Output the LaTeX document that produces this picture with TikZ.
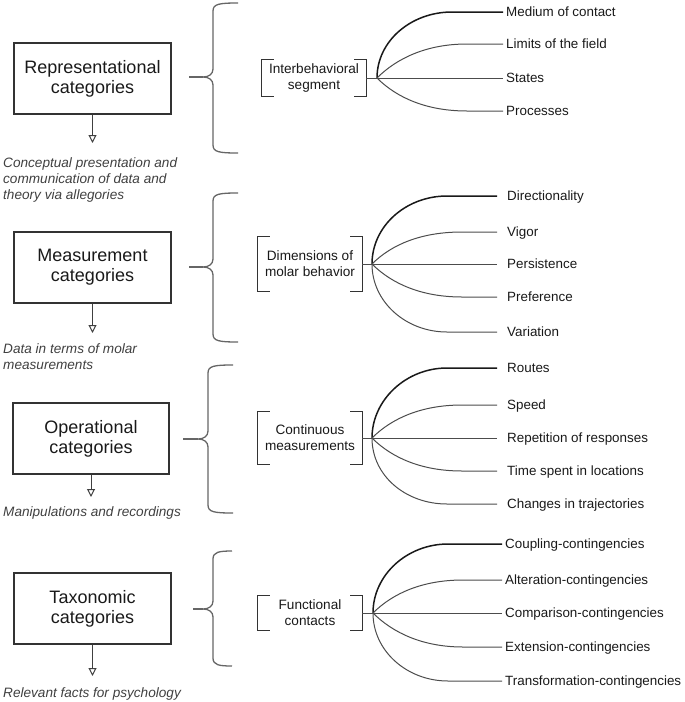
\documentclass[tikz,border=0pt]{standalone}
\usepackage{fontspec}
\setmainfont{Liberation Sans}
\usetikzlibrary{arrows.meta}
\newcommand\drawcbrace[6]{% xl, xv, xr, ytop, ymid, ybot
  \draw[bracestyle] (#3,#4) .. controls (#2+6,#4) and (#2,#4+1) .. (#2,#4+8)
    -- (#2,#5-8) .. controls (#2,#5-3) and (#2-4,#5) .. (#2-10,#5)
    .. controls (#2-4,#5) and (#2,#5+3) .. (#2,#5+8)
    -- (#2,#6-8) .. controls (#2,#6-1) and (#2+6,#6) .. (#3,#6);
  \draw[bracestyle] (#1,#5) -- (#2-10,#5);}
\newcommand\drawbrackets[1]{%
  \draw[bracketstyle] ([xshift=12pt]#1.north west) -- (#1.north west) -- (#1.south west) -- ([xshift=12pt]#1.south west);
  \draw[bracketstyle] ([xshift=-12pt]#1.north east) -- (#1.north east) -- (#1.south east) -- ([xshift=-12pt]#1.south east);}
% #1 hub, #2 leaf, #3 shift of outer joint, #4 shift of inner joint
\newcommand\drawfanfive[8]{% hub, leaf1..leaf5, outer shift, inner shift
  \draw[thickc] (#1) .. controls +(0,-38) and +(-41,0) .. ([xshift=#7]#2.west) -- (#2.west);
  \draw[thinc] (#1) .. controls +(20,-20) and +(-40,0) .. ([xshift=#8]#3.west) -- (#3.west);
  \draw[thinc] (#1) -- (#4.west);
  \draw[thinc] (#1) .. controls +(20,20) and +(-40,0) .. ([xshift=#8]#5.west) -- (#5.west);
  \draw[thinc] (#1) .. controls +(0,38) and +(-41,0) .. ([xshift=#7]#6.west) -- (#6.west);}
\begin{document}
\begin{tikzpicture}[x=1pt,y=-1pt,
  catbox/.style={draw=black!80, line width=1.1pt, minimum width=157pt, minimum height=71pt,
    align=center, font=\fontsize{18}{20}\selectfont, text=black!90, inner sep=0pt},
  note/.style={anchor=north west, align=left, font=\fontsize{13.6}{16}\selectfont\itshape,
    text=black!75, inner sep=0pt},
  seg/.style={align=center, font=\fontsize{13.6}{16}\selectfont, inner sep=0pt,
    minimum width=104pt, text=black!90},
  leaf/.style={anchor=west, font=\fontsize{13.4}{16}\selectfont, text=black!90, inner sep=0pt,
    text height=9.7pt, text depth=0pt},
  arr/.style={draw=black!75, line width=1pt, -{Triangle[open,length=8pt,width=8pt]}},
  bracestyle/.style={draw=black!60, line width=1.3pt},
  bracketstyle/.style={draw=black!80, line width=1.2pt},
  conn/.style={draw=black!70, line width=1pt},
  thickc/.style={draw=black!90, line width=1.5pt},
  thinc/.style={draw=black!70, line width=1pt},
]
\useasboundingbox (0,0) rectangle (685,702);

% ---------- panel 1
\node[catbox] (c1) at (92.5,78.5) {Representational\\categories};
\coordinate (t1) at (92.5,143);
\draw[arr] (c1.south) -- (t1);
\node[note] (n1) at (3,157) {Conceptual presentation and\\communication of data and\\theory via allegories};
\drawcbrace{189}{213}{238}{3}{77}{153}
\node[seg, minimum height=36pt] (s1) at (314,78) {Interbehavioral\\segment};
\drawbrackets{s1}
\coordinate (h1) at (377,78);
\draw[conn] (s1.east) -- (h1);
\node[leaf] (l11) at (506,12) {Medium of contact};
\node[leaf] (l12) at (506,44) {Limits of the field};
\node[leaf] (l13) at (506,78) {States};
\node[leaf] (l14) at (506,111) {Processes};
\begin{scope}[shorten >=3pt]
\draw[thickc] (h1) .. controls +(0,-37) and +(-41,0) .. ([xshift=-54pt]l11.west) -- (l11.west);
\draw[thinc] (h1) .. controls +(20,-20) and +(-40,0) .. ([xshift=-39pt]l12.west) -- (l12.west);
\draw[thinc] (h1) -- (l13.west);
\draw[thinc] (h1) .. controls +(20,20) and +(-40,0) .. ([xshift=-39pt]l14.west) -- (l14.west);
\end{scope}

% ---------- panel 2
\node[catbox] (c2) at (92.5,267.5) {Measurement\\categories};
\coordinate (t2) at (92.5,333);
\draw[arr] (c2.south) -- (t2);
\node[note] (n2) at (3,343.5) {Data in terms of molar\\measurements};
\drawcbrace{189}{213}{238}{193}{267}{342}
\node[seg, minimum height=54pt] (s2) at (310,264) {Dimensions of\\molar behavior};
\drawbrackets{s2}
\coordinate (h2) at (372,264);
\draw[conn] (s2.east) -- (h2);
\node[leaf] (l21) at (507,196) {Directionality};
\node[leaf] (l22) at (507,232) {Vigor};
\node[leaf] (l23) at (507,264) {Persistence};
\node[leaf] (l24) at (507,297) {Preference};
\node[leaf] (l25) at (507,332) {Variation};
\begin{scope}[shorten >=10pt]
\drawfanfive{h2}{l21}{l22}{l23}{l24}{l25}{-60pt}{-45pt}
\end{scope}

% ---------- panel 3
\node[catbox, minimum width=156pt] (c3) at (91,438.5) {Operational\\categories};
\coordinate (t3) at (91,497);
\draw[arr] (c3.south) -- (t3);
\node[note] (n3) at (3,506.6) {Manipulations and recordings};
\drawcbrace{183}{208}{233}{365}{439}{513}
\node[seg, minimum height=52pt] (s3) at (310,438) {Continuous\\measurements};
\drawbrackets{s3}
\coordinate (h3) at (372,438);
\draw[conn] (s3.east) -- (h3);
\node[leaf] (l31) at (507,368) {Routes};
\node[leaf] (l32) at (507,405) {Speed};
\node[leaf] (l33) at (507,438) {Repetition of responses};
\node[leaf] (l34) at (507,471) {Time spent in locations};
\node[leaf] (l35) at (507,504) {Changes in trajectories};
\begin{scope}[shorten >=10pt]
\drawfanfive{h3}{l31}{l32}{l33}{l34}{l35}{-60pt}{-45pt}
\end{scope}

% ---------- panel 4
\node[catbox] (c4) at (92.5,608.5) {Taxonomic\\categories};
\coordinate (t4) at (92.5,676);
\draw[arr] (c4.south) -- (t4);
\node[note] (n4) at (3,687.6) {Relevant facts for psychology};
\drawcbrace{193}{213}{232}{551}{609}{666}
\node[seg, minimum height=34pt] (s4) at (310,613) {Functional\\contacts};
\drawbrackets{s4}
\coordinate (h4) at (373,613);
\draw[conn] (s4.east) -- (h4);
\node[leaf] (l41) at (505,544) {Coupling-contingencies};
\node[leaf] (l42) at (505,580) {Alteration-contingencies};
\node[leaf] (l43) at (505,613) {Comparison-contingencies};
\node[leaf] (l44) at (505,647) {Extension-contingencies};
\node[leaf] (l45) at (505,681) {Transformation-contingencies};
\begin{scope}[shorten >=3pt]
\drawfanfive{h4}{l41}{l42}{l43}{l44}{l45}{-57pt}{-42pt}
\end{scope}
\end{tikzpicture}
\end{document}
